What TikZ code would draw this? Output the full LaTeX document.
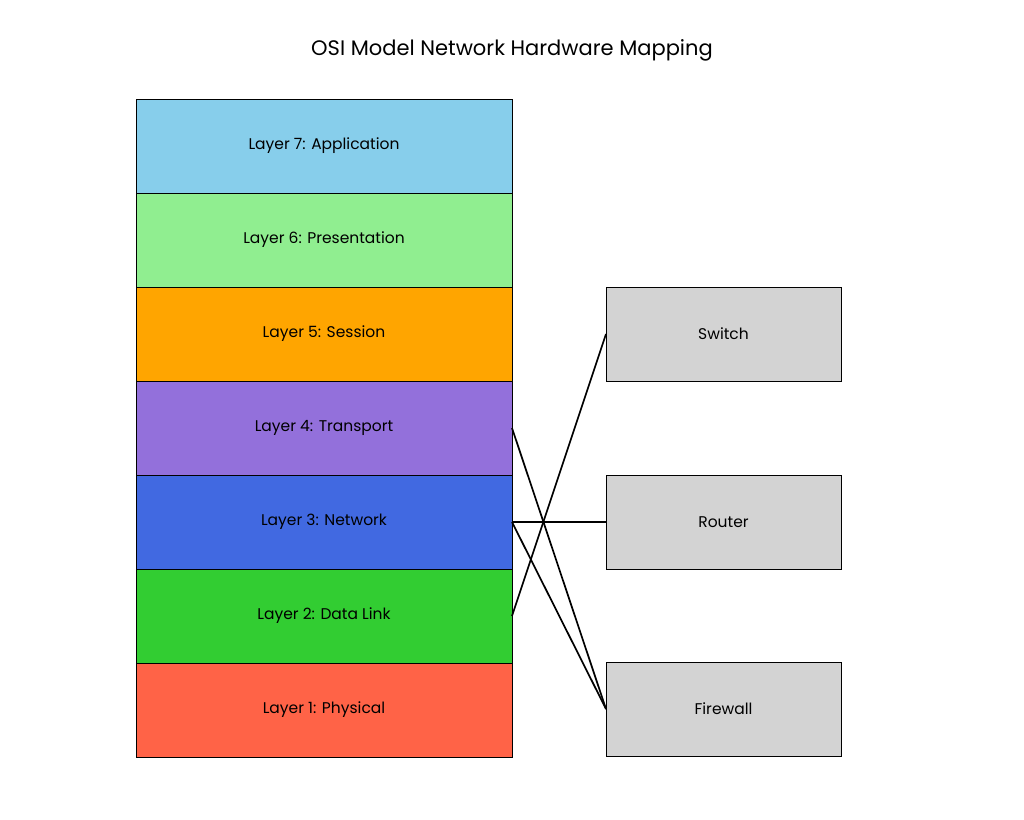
\documentclass[tikz,border=0pt]{standalone}
\usepackage{fontspec}
\setmainfont{Poppins}
\usetikzlibrary{calc}

\definecolor{skyblue}{RGB}{135,206,235}
\definecolor{lightgreen}{RGB}{144,238,144}
\definecolor{orange}{RGB}{255,165,0}
\definecolor{mediumpurple}{RGB}{147,112,219}
\definecolor{royalblue}{RGB}{65,105,225}
\definecolor{limegreen}{RGB}{50,205,50}
\definecolor{tomato}{RGB}{255,99,71}
\definecolor{lightgray}{RGB}{211,211,211}

\begin{document}
\begin{tikzpicture}[x=1pt,y=-1pt,
      layer/.style={draw,line width=1pt,minimum width=376pt,minimum height=94pt,
        inner sep=0pt,outer sep=0pt,font=\fontsize{15.5}{18}\selectfont},
      device/.style={draw,line width=1pt,fill=lightgray,minimum width=235pt,
        minimum height=94pt,inner sep=0pt,outer sep=0pt,font=\fontsize{15.5}{18}\selectfont},
      link/.style={line width=1.7pt}]
      \useasboundingbox (0,0) rectangle (1024,819);

      \node[font=\fontsize{21}{25}\selectfont] (title) at (512, 50) { OSI Model Network Hardware Mapping };

      \node[layer,fill=skyblue] (l7) at (324, 146) { Layer 7: Application };
      \node[layer,fill=lightgreen] (l6) at (324, 240) { Layer 6: Presentation };
      \node[layer,fill=orange] (l5) at (324, 334) { Layer 5: Session };
      \node[layer,fill=mediumpurple] (l4) at (324, 428) { Layer 4: Transport };
      \node[layer,fill=royalblue] (l3) at (324, 522) { Layer 3: Network };
      \node[layer,fill=limegreen] (l2) at (324, 616) { Layer 2: Data Link };
      \node[layer,fill=tomato] (l1) at (324, 710) { Layer 1: Physical };

      \node[device] (switch) at (723.5, 334) { Switch };
      \node[device] (router) at (723.5, 522) { Router };
      \node[device] (firewall) at (723.5, 709) { Firewall };

      \draw[link] (l2.east) -- (switch.west);
      \draw[link] (l3.east) -- (router.west);
      \draw[link] (l3.east) -- (firewall.west);
      \draw[link] (l4.east) -- (firewall.west);
\end{tikzpicture}
\end{document}
